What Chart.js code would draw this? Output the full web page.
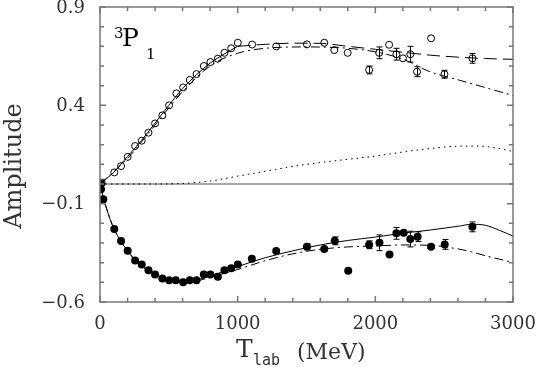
<!DOCTYPE html>
<html>
<head>
<meta charset="utf-8">
<script src="https://cdn.jsdelivr.net/npm/chart.js@4"></script>
<style>
  html, body { margin: 0; padding: 0; background: #fff; }
  canvas { display: block; }
</style>
</head>
<body>
<canvas id="chart" width="538" height="367"></canvas>
<script>
// tick labels
const xTickLabels = [0, 1000, 2000, 3000];
const yTickLabels = [-0.6, -0.1, 0.4, 0.9];

// open circles (upper amplitude) with error bars
const openX = [12, 104, 153, 201, 255, 303, 352, 400, 453, 502, 555, 604, 652, 701, 754, 802, 856, 904, 953, 1001,
  1105, 1280, 1503, 1629, 1702, 1799, 1955, 2028, 2100, 2153, 2201, 2254, 2303, 2405, 2502, 2705];
const openY = [0.007, 0.059, 0.091, 0.138, 0.193, 0.22, 0.261, 0.308, 0.349, 0.40, 0.461, 0.491, 0.529, 0.559, 0.60, 0.62, 0.637, 0.667, 0.69, 0.718,
  0.709, 0.70, 0.71, 0.718, 0.681, 0.667, 0.58, 0.667, 0.708, 0.66, 0.639, 0.66, 0.571, 0.741, 0.558, 0.639];
const openErr = [0, 0, 0, 0, 0, 0, 0, 0, 0, 0, 0, 0, 0, 0, 0, 0, 0, 0, 0, 0,
  0, 0, 0, 0, 0, 0, 0.02, 0.03, 0, 0.03, 0, 0.04, 0.025, 0, 0.02, 0.025];

// filled circles (lower amplitude) with error bars
const filledX = [7, 7, 24, 104, 153, 201, 255, 303, 352, 400, 453, 502, 550, 604, 652, 701, 754, 802, 856, 904, 953, 1001,
  1103, 1280, 1503, 1629, 1705, 1803, 1955, 2030, 2103, 2153, 2206, 2254, 2307, 2405, 2504, 2705];
const filledY = [0.0, -0.027, -0.078, -0.229, -0.29, -0.34, -0.389, -0.409, -0.438, -0.46, -0.48, -0.489, -0.489, -0.50, -0.489, -0.489, -0.46, -0.46, -0.472, -0.438, -0.429, -0.409,
  -0.38, -0.341, -0.319, -0.331, -0.289, -0.441, -0.309, -0.299, -0.358, -0.251, -0.248, -0.28, -0.268, -0.319, -0.307, -0.218];
const filledErr = [0, 0, 0, 0, 0, 0, 0, 0, 0, 0, 0, 0, 0, 0, 0, 0, 0, 0, 0, 0, 0, 0,
  0, 0, 0.015, 0, 0.02, 0, 0.02, 0.04, 0, 0.03, 0, 0.04, 0.025, 0, 0.025, 0.025];

// model curves
const upperSolidX = [0, 100, 200, 300, 400, 500, 600, 700, 800, 900, 1000];
const upperSolidY = [0, 0.06, 0.14, 0.22, 0.31, 0.40, 0.485, 0.555, 0.615, 0.66, 0.70];

const upperDashX = [1000, 1200, 1400, 1600, 1800, 2000, 2200, 2400, 2600, 2800, 3000];
const upperDashY = [0.70, 0.71, 0.716, 0.715, 0.70, 0.685, 0.67, 0.655, 0.645, 0.638, 0.634];

const upperDashDotX = [0, 200, 400, 600, 800, 1000, 1200, 1500, 1800, 2000, 2200, 2400, 2600, 2800, 3000];
const upperDashDotY = [0, 0.13, 0.30, 0.47, 0.60, 0.665, 0.69, 0.697, 0.69, 0.672, 0.635, 0.57, 0.53, 0.49, 0.45];

const dottedX = [0, 200, 400, 600, 800, 1000, 1200, 1500, 2000, 2300, 2600, 2750, 2900, 3000];
const dottedY = [0, 0, 0, 0.003, 0.015, 0.04, 0.065, 0.10, 0.142, 0.172, 0.192, 0.193, 0.18, 0.165];

const lowerX = [0, 25, 50, 100, 200, 300, 400, 500, 600, 700, 800, 900, 1000, 1200, 1400, 1600, 1800, 2000, 2200, 2400, 2600, 2700, 2800, 2900, 3000];
const lowerSolidY = [0, -0.07, -0.13, -0.225, -0.34, -0.415, -0.46, -0.485, -0.495, -0.488, -0.468, -0.445, -0.42, -0.375, -0.34, -0.31, -0.287, -0.27, -0.25, -0.234, -0.215, -0.205, -0.21, -0.235, -0.265];
const lowerDashDotY = [0, -0.07, -0.13, -0.225, -0.34, -0.415, -0.462, -0.488, -0.498, -0.493, -0.475, -0.455, -0.435, -0.39, -0.355, -0.332, -0.32, -0.315, -0.31, -0.312, -0.33, -0.345, -0.365, -0.382, -0.40];

const pts = (xs, ys) => xs.map((x, i) => ({ x: x, y: ys[i] }));

function curve(xs, ys, dash) {
  return {
    type: 'line',
    data: pts(xs, ys),
    borderColor: '#000',
    borderWidth: 1,
    borderDash: dash,
    pointRadius: 0,
    fill: false,
    cubicInterpolationMode: 'monotone',
  };
}

const SERIF = '"DejaVu Serif", serif';

// frame, inward ticks, labels, titles, error bars
const framePlugin = {
  id: 'frame',
  beforeDatasetsDraw(chart) {
    const { ctx, chartArea: a, scales: { y } } = chart;
    const y0 = y.getPixelForValue(0);
    ctx.save();
    ctx.strokeStyle = '#8a8a8a';
    ctx.lineWidth = 1.5;
    ctx.beginPath();
    ctx.moveTo(a.left, y0);
    ctx.lineTo(a.right, y0);
    ctx.stroke();
    ctx.restore();
  },
  afterDatasetsDraw(chart) {
    const { ctx, scales: { x, y } } = chart;
    ctx.save();
    ctx.strokeStyle = '#000';
    ctx.lineWidth = 1;
    const bars = (xs, ys, es) => {
      xs.forEach((v, i) => {
        if (!es[i]) return;
        const px = Math.round(x.getPixelForValue(v)) + 0.5;
        const top = y.getPixelForValue(ys[i] + es[i]);
        const bot = y.getPixelForValue(ys[i] - es[i]);
        ctx.beginPath();
        ctx.moveTo(px, top); ctx.lineTo(px, bot);
        ctx.moveTo(px - 3, top); ctx.lineTo(px + 3, top);
        ctx.moveTo(px - 3, bot); ctx.lineTo(px + 3, bot);
        ctx.stroke();
      });
    };
    bars(openX, openY, openErr);
    bars(filledX, filledY, filledErr);
    ctx.restore();
  },
  afterDraw(chart) {
    const { ctx, chartArea: a, scales: { x, y } } = chart;
    ctx.save();
    ctx.strokeStyle = '#777';
    ctx.lineWidth = 1.5;
    ctx.strokeRect(a.left, a.top, a.right - a.left, a.bottom - a.top);

    ctx.beginPath();
    for (let v = 0; v <= 3000; v += 200) {
      const px = x.getPixelForValue(v);
      const len = v % 1000 === 0 ? 6 : 4;
      ctx.moveTo(px, a.bottom); ctx.lineTo(px, a.bottom - len);
      ctx.moveTo(px, a.top); ctx.lineTo(px, a.top + len);
    }
    for (let k = -6; k <= 9; k++) {
      const py = y.getPixelForValue(k / 10);
      const len = (k + 6) % 5 === 0 ? 6 : 4;
      ctx.moveTo(a.left, py); ctx.lineTo(a.left + len, py);
      ctx.moveTo(a.right, py); ctx.lineTo(a.right - len, py);
    }
    ctx.stroke();

    ctx.fillStyle = '#333';
    ctx.font = '18px ' + SERIF;
    ctx.textAlign = 'right';
    ctx.textBaseline = 'middle';
    yTickLabels.forEach(v => {
      const s = v < 0 ? '\u2212' + Math.abs(v).toFixed(1) : v.toFixed(1);
      ctx.fillText(s, a.left - 15, y.getPixelForValue(v) + 1);
    });
    ctx.textAlign = 'center';
    ctx.textBaseline = 'alphabetic';
    xTickLabels.forEach(v => {
      ctx.fillText(String(v), x.getPixelForValue(v), a.bottom + 27);
    });

    // x title: T_lab (MeV)
    ctx.textAlign = 'left';
    ctx.font = '25px ' + SERIF;
    ctx.fillText('T', 236, 357);
    ctx.font = '15px "DejaVu Sans Mono", monospace';
    ctx.fillText('lab', 253, 365);
    ctx.font = '22px ' + SERIF;
    ctx.fillText('(MeV)', 297, 359);

    // y title
    ctx.save();
    ctx.translate(21, 166);
    ctx.rotate(-Math.PI / 2);
    ctx.textAlign = 'center';
    ctx.font = '24px ' + SERIF;
    ctx.fillText('Amplitude', 0, 0);
    ctx.restore();

    // partial wave label 3P1
    ctx.fillStyle = '#000';
    ctx.font = '15px ' + SERIF;
    ctx.fillText('3', 114, 38);
    ctx.font = '25px ' + SERIF;
    ctx.fillText('P', 122, 46);
    ctx.font = '15px ' + SERIF;
    ctx.fillText('1', 146, 59);
    ctx.restore();
  }
};

new Chart(document.getElementById('chart'), {
  type: 'scatter',
  data: {
    datasets: [
      curve(upperSolidX, upperSolidY, []),
      curve(upperDashX, upperDashY, [13, 6]),
      curve(upperDashDotX, upperDashDotY, [9, 4, 2, 4]),
      curve(dottedX, dottedY, [1.5, 4]),
      curve(lowerX, lowerSolidY, []),
      curve(lowerX, lowerDashDotY, [9, 4, 2, 4]),
      {
        data: pts(openX, openY),
        pointRadius: 3.5,
        pointBorderWidth: 1,
        pointBorderColor: '#000',
        pointBackgroundColor: 'rgba(0,0,0,0)',
      },
      {
        data: pts(filledX, filledY),
        pointRadius: 4,
        pointBorderWidth: 0,
        pointBackgroundColor: '#000',
      }
    ]
  },
  options: {
    responsive: false,
    animation: false,
    layout: { padding: { left: 100, top: 7, right: 25, bottom: 65 } },
    plugins: { legend: { display: false }, tooltip: { enabled: false } },
    scales: {
      x: { type: 'linear', min: 0, max: 3000, display: false },
      y: { type: 'linear', min: -0.6, max: 0.9, display: false }
    }
  },
  plugins: [framePlugin]
});
</script>
</body>
</html>
